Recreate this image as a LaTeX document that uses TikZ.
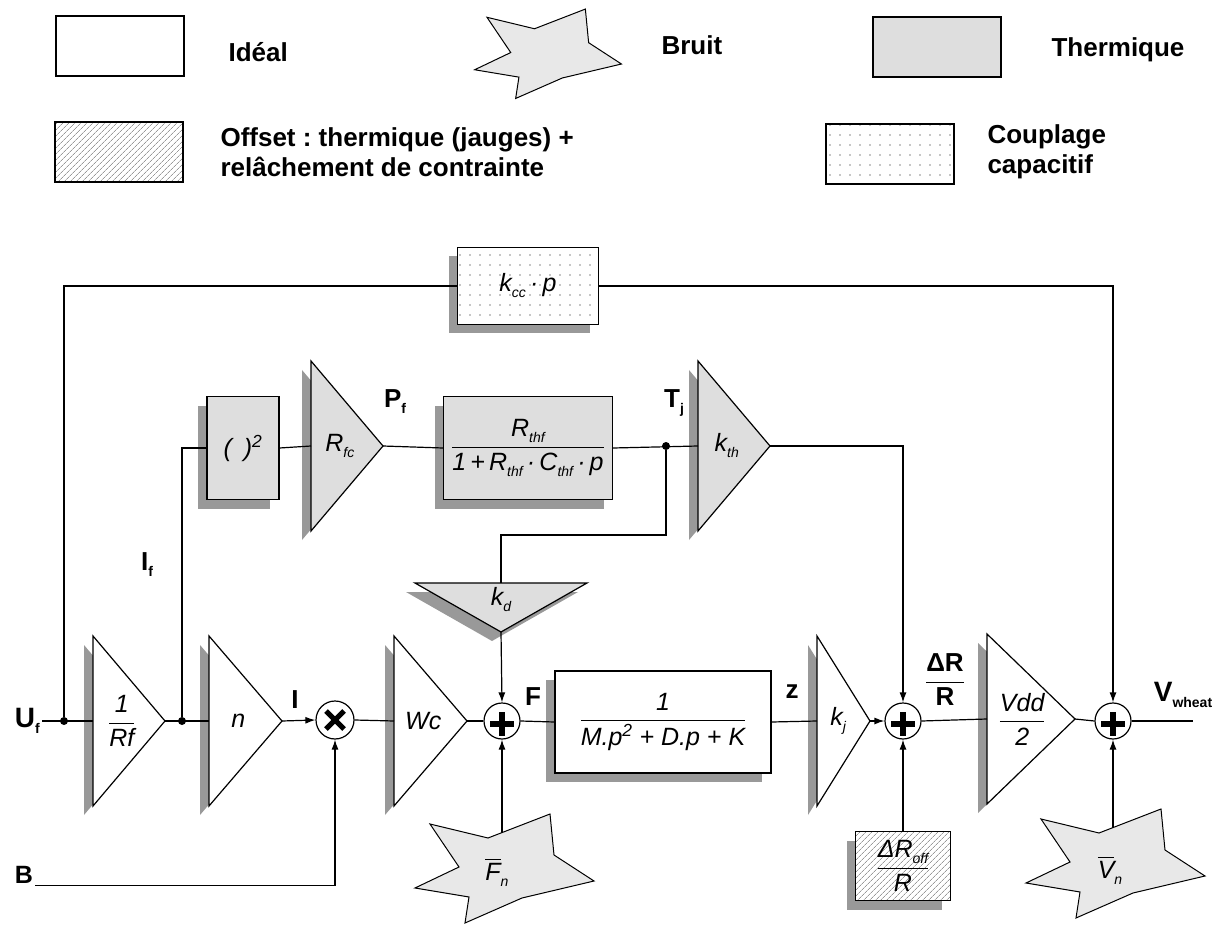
\documentclass[tikz,border=0pt]{standalone}
\usepackage{fontspec}
\setmainfont{Liberation Sans}
\usepackage{amsmath}
\usetikzlibrary{positioning,shapes.geometric,shadows,patterns.meta,arrows.meta}

\newcommand{\lbl}{\fontsize{26}{30}\selectfont\bfseries}
\newcommand{\blk}{\fontsize{25}{30}\selectfont\itshape}
\newcommand{\leg}{\fontsize{26}{30}\selectfont\bfseries}
\newcommand{\idx}[1]{\raisebox{-6pt}{\fontsize{14}{14}\selectfont #1}}
\frenchspacing

\tikzset{
  bruit/.pic={\path[noise] (-72,-46) -- (-14,-32) -- (48,-56) -- (52,-15) -- (92,11) -- (20,28)
      -- (-37,53) -- (-33,27) -- (-87,18) -- (-43,-3) -- cycle;},
  pics/gain/.style args={#1/#2/#3}{code={
      \draw[#2, shadowed] (0,-85) -- (#1,0) -- (0,85) -- cycle;
      \coordinate (-in) at (0,0);
      \coordinate (-out) at (#1,0);
      \node[font=\blk, inner sep=0pt] (-txt) at ({0.4*#1},0) {#3};
  }}
}

\begin{document}
\begin{tikzpicture}[x=1pt, y=-1pt,
  wire/.style={line width=1.2pt},
  arr/.style={wire, -{Latex[length=10pt,width=7pt]}},
  shadowed/.style={drop shadow={shadow xshift=-9pt, shadow yshift=-9pt, fill=black!40, opacity=1}},
  ideal/.style={draw, line width=1.2pt, fill=white},
  therm/.style={draw, line width=1.2pt, fill=black!13},
  offs/.style={draw, line width=1.2pt, preaction={fill=white},
               pattern={Lines[angle=45,distance=4pt,line width=0.8pt]}, pattern color=black!40},
  coupl/.style={draw, line width=1.2pt, preaction={fill=white},
               pattern={Dots[distance=10pt,radius=0.8pt]}, pattern color=black!45},
  blockbox/.style={rectangle, inner sep=0pt, font=\blk, shadowed},
  sum/.style={circle, draw, line width=1.2pt, fill=white, minimum size=36pt, inner sep=0pt,
              path picture={\draw[line width=6pt] ([yshift=-3pt]path picture bounding box.center) +(-12,0) -- +(12,0)
                            +(0,-12) -- +(0,12);}},
  prod/.style={circle, draw, line width=1.2pt, fill=white, minimum size=38pt, inner sep=0pt,
              path picture={\draw[line width=5pt] (path picture bounding box.center) +(-9,-9) -- +(9,9)
                            +(-9,9) -- +(9,-9);}},
  dot/.style={circle, fill, inner sep=0pt, minimum size=8pt},
  lab/.style={font=\lbl, inner sep=2pt},
  legtxt/.style={font=\leg, anchor=west, align=left},
  legbox/.style={minimum width=128pt, minimum height=60pt, inner sep=0pt},
  noise/.style={draw, fill=black!9, line width=1pt}
]
\useasboundingbox (0,0) rectangle (1224,925);

%% legend
\node[legbox, ideal] (lgideal) at (120,46) {};
\node[legtxt] (lgidealtxt) at (225,52) {Idéal};
\pic[scale=0.82] at (546,55) {bruit};
\node[legtxt] (lgbruit) at (658,45) {Bruit};
\node[legbox, therm] (lgtherm) at (937,47) {};
\node[legtxt] (lgthermtxt) at (1048,50) {Thermique};
\node[legbox, offs] (lgoffs) at (119,152) {};
\node[legtxt] (lgoffstxt) at (217,152) {Offset : thermique (jauges) +\\relâchement de contrainte};
\node[legbox, coupl] (lgcoupl) at (890,154) {};
\node[legtxt] (lgcoupltxt) at (984,152) {Couplage\\capacitif};

%% main chain
\node[lab, anchor=east, font=\fontsize{28}{30}\selectfont\bfseries] (uf) at (42,721) {U\idx{f}};
\node[dot] (d1) at (64,721) {};
\pic (rf) at (93,721) {gain={72/ideal/$\dfrac{\text{1}}{\text{Rf}}$}};
\node[dot] (d2) at (182,721) {};
\pic (gn) at (209,721) {gain={73/ideal/n}};
\node[prod] (mult) at (335,720) {};
\pic (wc) at (394,721) {gain={73/ideal/Wc}};
\node[sum] (s1) at (502,721) {};
\node[blockbox, ideal, minimum width=216pt, minimum height=102pt] (mass) at (663,722)
  {$\dfrac{\text{1}}{\text{M.p\textsuperscript{2} + D.p + K}}$};
\pic (kj) at (817,721) {gain={53/ideal/k\idx{j}}};
\node[sum] (s2) at (903,721) {};
\pic (vdd) at (987,719) {gain={88/ideal/$\dfrac{\text{Vdd}}{\text{2}}$}};
\node[sum] (s3) at (1113,721) {};
\coordinate (vout) at (1193,721);

%% thermal branch
\node[blockbox, therm, minimum width=72pt, minimum height=103pt] (sq) at (243,448) {(\hspace{12pt})\textsuperscript{2}};
\pic (rfc) at (311,446) {gain={72/therm/R\idx{fc}}};
\node[blockbox, therm, minimum width=169pt, minimum height=103pt] (rth) at (528,448)
  {$\dfrac{\text{R\idx{thf}}}{\text{1\,+\,R\idx{thf}\,·\,C\idx{thf}\,·\,p}}$};
\node[dot] (tj) at (666,446) {};
\pic (kth) at (698,446) {gain={72/therm/k\idx{th}}};
\draw[therm, shadowed] (415,583) -- (587,583) -- (501,632) -- cycle;
\coordinate (kd-in) at (501,583);
\coordinate (kd-out) at (501,632);
\node[font=\blk, inner sep=0pt] (kd) at (501,600) {k\idx{d}};
\node[blockbox, coupl, minimum width=141pt, minimum height=77pt] (kcc) at (528,286) {k\idx{cc}\,·\,p};

%% inputs and disturbances
\node[lab, font=\fontsize{25}{30}\selectfont\bfseries] (b) at (24,875) {B};
\coordinate (fnc) at (502,870);
\coordinate (vnc) at (1113,865);
\node[blockbox, offs, minimum width=95pt, minimum height=69pt] (droff) at (903,866)
  {$\dfrac{\text{ΔR\idx{off}}}{\text{R}}$};

%% signal labels
\node[lab] (iflab) at (147,565) {I\idx{f}};
\node[lab] (pflab) at (395,402) {P\idx{f}};
\node[lab] (tjlab) at (674,403) {T\idx{j}};
\node[lab] (ilab) at (295,700) {I};
\node[lab] (flab) at (533,697) {F};
\node[lab] (zlab) at (792,692) {z};
\node[lab] (drlab) at (945,680) {$\dfrac{\text{ΔR}}{\text{R}}$};
\node[lab] (vwlab) at (1183,695) {\fontsize{28}{30}\selectfont V\idx{wheat}};

%% connectors
\draw[wire] (uf) -- (rf-in);
\draw[wire] (d1) |- (kcc.west);
\draw[arr] (kcc.east) -| (s3.north);
\draw[wire] (rf-out) -- (gn-in);
\draw[wire] (d2) |- (sq.west);
\draw[arr] (gn-out) -- (mult.west);
\draw[arr] (b.south east) -| (mult.south);
\draw[wire] (mult.east) -- (wc-in);
\draw[wire] (wc-out) -- (s1.west);
\draw[wire] (s1.east) -- (mass.west);
\draw[wire] (mass.east) -- (kj-in);
\draw[arr] (kj-out) -- (s2.west);
\draw[wire] (s2.east) -- (vdd-in);
\draw[wire] (vdd-out) -- (s3.west);
\draw[wire] (s3.east) -- (vout);
\draw[wire] (sq.east) -- (rfc-in);
\draw[wire] (rfc-out) -- (rth.west);
\draw[wire] (rth.east) -- (kth-in);
\draw[arr] (kth-out) -| (s2.north);
\draw[wire] (tj) -- ++(0,89) -| (kd-in);
\draw[arr] (kd-out) -- (s1.north);
\draw[arr] (fnc) -- (s1.south);
\draw[arr] (droff) -- (s2.south);
\draw[arr] (vnc) -- (s3.south);

%% noise sources
\pic at (fnc) {bruit};
\pic at (vnc) {bruit};
\node[font=\blk] (fn) at (497,872) {$\overline{\mbox{F}}$\idx{n}};
\node[font=\blk] (vn) at (1110,870) {$\overline{\mbox{V}}$\idx{n}};
\end{tikzpicture}
\end{document}
